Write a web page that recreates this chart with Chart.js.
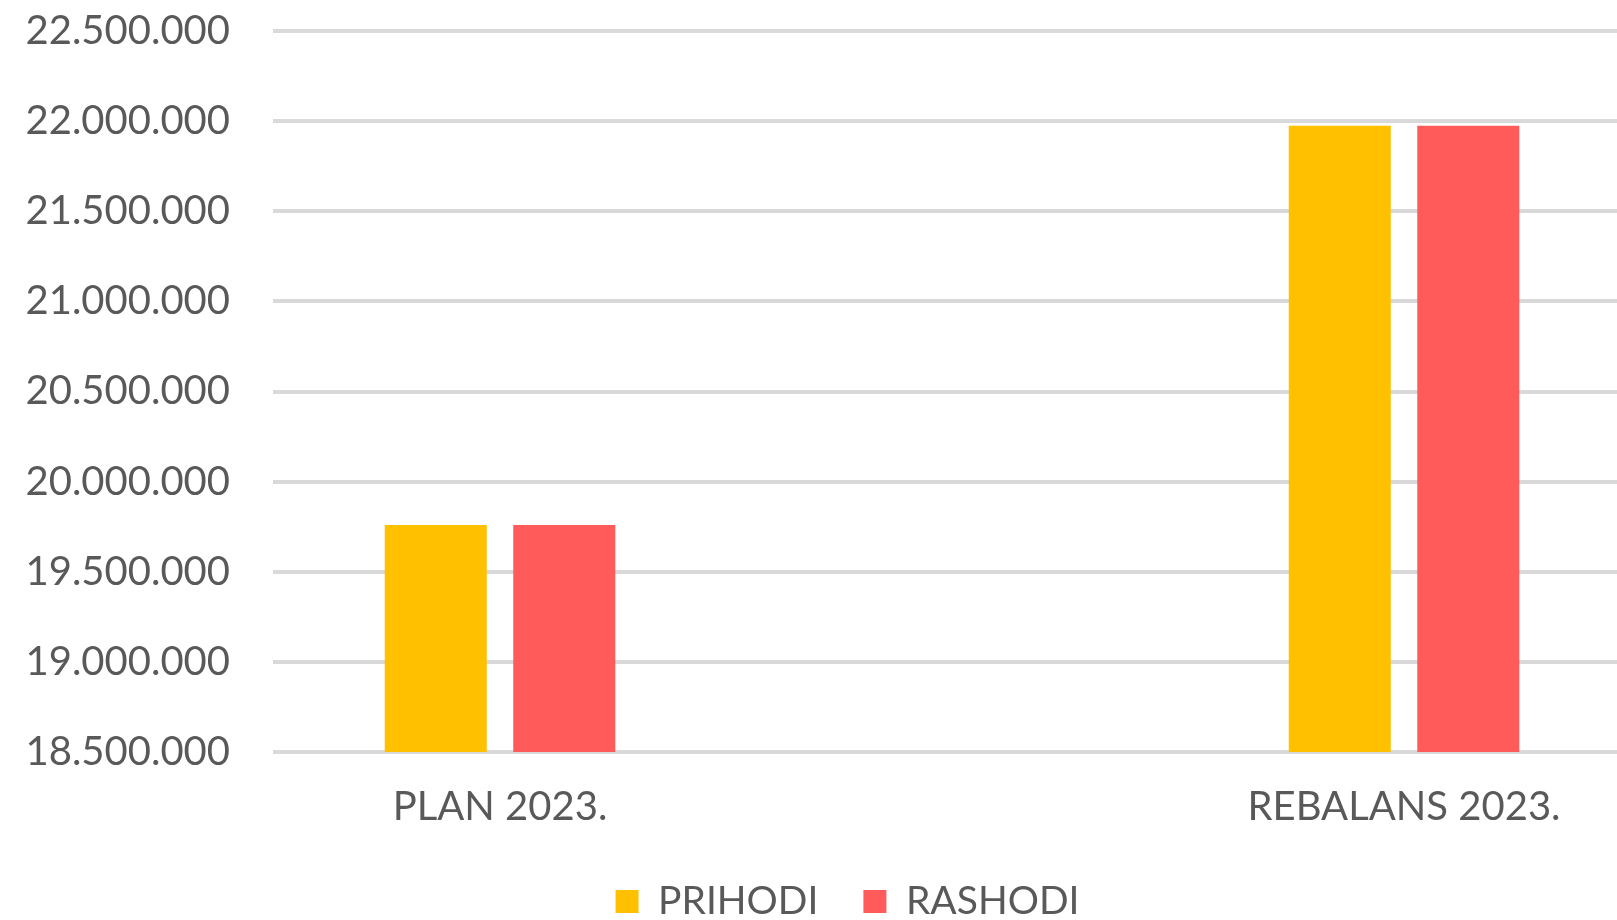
<!DOCTYPE html>
<html>
<head>
<meta charset="utf-8">
<title>Plan i rebalans 2023.</title>
<script src="https://cdn.jsdelivr.net/npm/chart.js@4.4.1/dist/chart.umd.min.js"></script>
<style>
  html, body { margin: 0; padding: 0; background: #ffffff; overflow: hidden; }
  #wrap { width: 1617px; height: 931px; }
</style>
</head>
<body>
<div id="wrap"><canvas id="chart" width="1617" height="931"></canvas></div>
<script>
// data
const categories = ['PLAN 2023.', 'REBALANS 2023.'];
const prihodi = [19760000, 21975000];
const rashodi = [19760000, 21975000];
const yTicks = [18500000, 19000000, 19500000, 20000000, 20500000, 21000000, 21500000, 22000000, 22500000];

const FONT = 'Lato, "Open Sans", sans-serif';
const TEXT = '#595959';
const GRID = '#d9d9d9';

// thousands with dots, like the original
function fmt(v) {
  return String(v).replace(/\B(?=(\d{3})+(?!\d))/g, '.');
}

const toPoints = arr => arr.map((v, i) => ({ x: i, y: v }));

// the legend in the original sits a bit right of the page centre
const legendShift = {
  id: 'legendShift',
  afterLayout(chart) {
    if (chart.legend) {
      chart.legend.left += 39;
      chart.legend.right += 39;
    }
  }
};

new Chart(document.getElementById('chart'), {
  type: 'bar',
  data: {
    datasets: [
      {
        label: 'PRIHODI',
        data: toPoints(prihodi),
        backgroundColor: '#ffc000',
        borderWidth: 0
      },
      {
        label: 'RASHODI',
        data: toPoints(rashodi),
        backgroundColor: '#ff5b5b',
        borderWidth: 0
      }
    ]
  },
  plugins: [legendShift],
  options: {
    responsive: false,
    animation: false,
    devicePixelRatio: 1,
    categoryPercentage: 0.2843,
    barPercentage: 0.794,
    layout: { padding: { top: 31, left: 0, right: 0, bottom: 0 } },
    plugins: {
      tooltip: { enabled: false },
      legend: {
        position: 'bottom',
        labels: {
          font: { family: FONT, size: 39 },
          color: TEXT,
          boxWidth: 23,
          boxHeight: 23,
          padding: 45
        }
      }
    },
    scales: {
      // linear x so the two groups land where the original puts them
      x: {
        type: 'linear',
        min: -0.2511,
        max: 1.2356,
        offset: false,
        grid: { display: false, offset: false },
        border: { display: false },
        afterBuildTicks: scale => {
          scale.ticks = categories.map((c, i) => ({ value: i }));
        },
        afterFit: scale => {
          scale.height = 85;
          scale.paddingLeft = 0;
          scale.paddingRight = 0;
        },
        ticks: {
          autoSkip: false,
          maxRotation: 0,
          padding: 23,
          color: TEXT,
          font: { family: FONT, size: 40 },
          callback: v => categories[v] ?? ''
        }
      },
      y: {
        min: yTicks[0],
        max: yTicks[yTicks.length - 1],
        afterBuildTicks: scale => {
          scale.ticks = yTicks.map(v => ({ value: v }));
        },
        afterFit: scale => {
          scale.width = 273;
          scale.paddingTop = 0;
          scale.paddingBottom = 0;
        },
        grid: { color: GRID, lineWidth: 4, drawTicks: false },
        border: { display: false },
        ticks: {
          padding: 43,
          color: TEXT,
          font: { family: FONT, size: 40 },
          callback: v => fmt(v)
        }
      }
    }
  }
});
</script>
</body>
</html>
